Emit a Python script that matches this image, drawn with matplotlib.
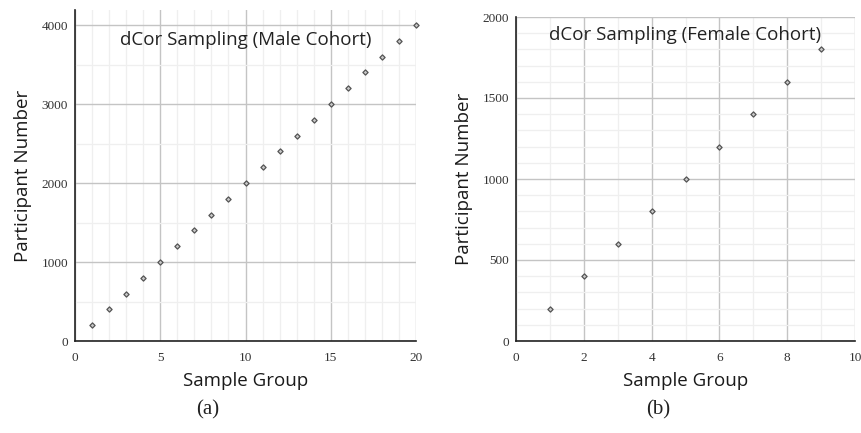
import matplotlib
matplotlib.use("Agg")
import matplotlib.pyplot as plt
from matplotlib.ticker import MultipleLocator

male_groups = list(range(1, 21))
male_participants = [200, 400, 600, 800, 1000, 1200, 1400, 1600, 1800, 2000,
                     2200, 2400, 2600, 2800, 3000, 3200, 3400, 3600, 3800, 4000]
female_groups = list(range(1, 10))
female_participants = [200, 400, 600, 800, 1000, 1200, 1400, 1600, 1800]

male_title = "dCor Sampling (Male Cohort)"
female_title = "dCor Sampling (Female Cohort)"
xlabel = "Sample Group"
ylabel = "Participant Number"

sans = ["Open Sans", "DejaVu Sans"]
serif = ["Liberation Serif", "DejaVu Serif"]

fig = plt.figure(figsize=(8.61, 4.33), dpi=100)
axL = fig.add_axes([75/861, 1-341/433, (416-75)/861, (341-10)/433])
axR = fig.add_axes([516/861, 1-341/433, (855-516)/861, (341-17)/433])

def style(ax, xmax, ymax, xmaj, xmin, ymaj, ymin):
    ax.set_xlim(0, xmax)
    ax.set_ylim(0, ymax)
    ax.xaxis.set_major_locator(MultipleLocator(xmaj))
    ax.xaxis.set_minor_locator(MultipleLocator(xmin))
    ax.yaxis.set_major_locator(MultipleLocator(ymaj))
    ax.yaxis.set_minor_locator(MultipleLocator(ymin))
    ax.grid(which="major", color="#c4c4c4", linewidth=1.0)
    ax.grid(which="minor", color="#efefef", linewidth=0.9)
    ax.set_axisbelow(True)
    for s in ("top", "right"):
        ax.spines[s].set_visible(False)
    for s in ("left", "bottom"):
        ax.spines[s].set_color("#222222")
        ax.spines[s].set_linewidth(1.2)
    ax.tick_params(which="both", length=0, labelsize=9.5, labelcolor="#333333")
    ax.tick_params(axis="x", pad=8)
    ax.tick_params(axis="y", pad=5)
    for lab in ax.get_xticklabels() + ax.get_yticklabels():
        lab.set_fontfamily(serif)
    ax.set_xlabel(xlabel, fontsize=13.5, fontfamily=sans, color="#1a1a1a", labelpad=6)
    ax.set_ylabel(ylabel, fontsize=13.5, fontfamily=sans, color="#1a1a1a", labelpad=7)

axL.scatter(male_groups, male_participants, marker="D", s=7, facecolor="#c8c8c8",
            edgecolor="#555555", linewidth=0.9, zorder=3, clip_on=False)
axR.scatter(female_groups, female_participants, marker="D", s=7, facecolor="#c8c8c8",
            edgecolor="#555555", linewidth=0.9, zorder=3, clip_on=False)

style(axL, 20, 4190, 5, 1, 1000, 500)
style(axR, 10, 2000, 2, 1, 500, 100)

axL.text(0.5, 0.91, male_title, transform=axL.transAxes, ha="center", va="center",
         fontsize=13.5, fontfamily=sans, color="#222222")
axR.text(0.5, 0.945, female_title, transform=axR.transAxes, ha="center", va="center",
         fontsize=13.5, fontfamily=sans, color="#222222")

fig.text(208/861, 1-410/433, "(a)", ha="center", va="center", fontsize=15, fontfamily=serif, color="#222222")
fig.text(658/861, 1-410/433, "(b)", ha="center", va="center", fontsize=15, fontfamily=serif, color="#222222")

fig.savefig("out.png", dpi=100)
